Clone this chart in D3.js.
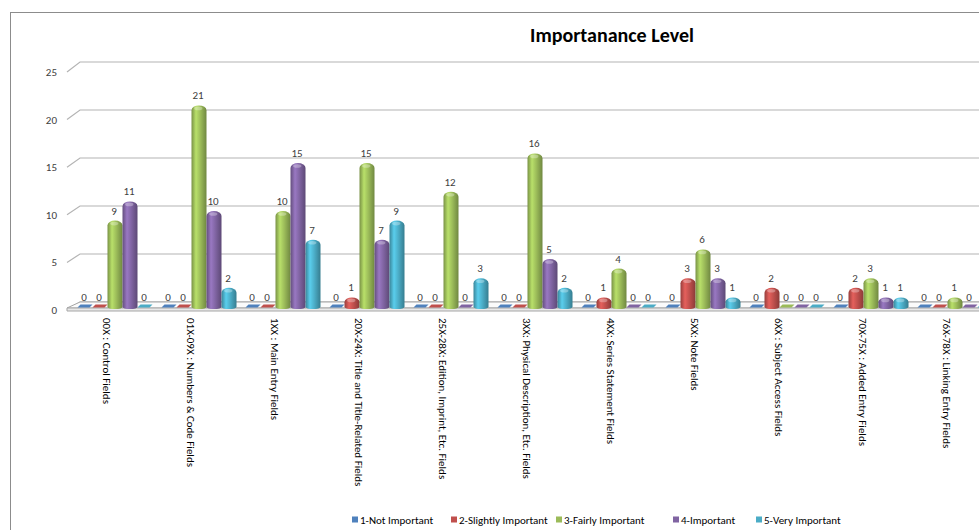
<!DOCTYPE html>
<html>
<head>
<meta charset="utf-8">
<script src="https://cdn.jsdelivr.net/npm/d3@7"></script>
<style>
  body { margin: 0; background: #fff; }
  svg { font-family: Calibri, Carlito, "Open Sans", "Noto Sans", sans-serif; }
</style>
</head>
<body>
<svg width="979" height="530"></svg>
<script>
// chart data
var categories = [
    '00X : Control Fields',
    '01X-09X : Numbers & Code Fields',
    '1XX : Main Entry Fields',
    '20X-24X: Title and Title-Related Fields',
    '25X-28X: Edition, Imprint, Etc. Fields',
    '3XX: Physical Description, Etc. Fields',
    '4XX: Series Statement Fields',
    '5XX: Note Fields',
    '6XX : Subject Access Fields',
    '70X-75X : Added Entry Fields',
    '76X-78X : Linking Entry Fields'
];
var seriesNames = ['1-Not Important', '2-Slightly Important', '3-Fairly Important', '4-Important', '5-Very Important'];
var notImportant      = [0, 0, 0, 0, 0, 0, 0, 0, 0, 0, 0];
var slightlyImportant = [0, 0, 0, 1, 0, 0, 1, 3, 2, 2, 0];
var fairlyImportant   = [9, 21, 10, 15, 12, 16, 4, 6, 0, 3, 1];
var important         = [11, 10, 15, 7, 0, 5, 0, 3, 0, 1, 0];
var veryImportant     = [0, 2, 7, 9, 3, 2, 0, 1, 0, 1, 0];
var yTicks = [0, 5, 10, 15, 20, 25];
var colors = ['#4F81BD', '#C0504D', '#9BBB59', '#8064A2', '#4BACC6'];

var seriesValues = [notImportant, slightlyImportant, fairlyImportant, important, veryImportant];

var svg = d3.select('svg');

// outer chart border (chart is cropped on the right)
svg.append('rect')
    .attr('x', 10.5).attr('y', 12.5)
    .attr('width', 1000).attr('height', 530)
    .attr('fill', 'none')
    .attr('stroke', '#8c8c8c');

// title
svg.append('text')
    .attr('x', 612).attr('y', 42)
    .attr('text-anchor', 'middle')
    .style('font-size', '20px')
    .style('font-weight', 'bold')
    .attr('fill', '#000')
    .text('Importanance Level');

// scales
var yBack = d3.scaleLinear().domain([0, 25]).range([302, 62]);
var yFront = d3.scaleLinear().domain([0, 25]).range([307, 67]);
var yLabel = d3.scaleLinear().domain([0, 25]).range([310, 72]);

var xGroup = d3.scaleBand()
    .domain(categories)
    .range([73, 997])
    .paddingInner(0.107)
    .paddingOuter(0.0535);

var xSeries = d3.scaleBand()
    .domain(seriesNames)
    .range([0, xGroup.bandwidth()]);

// gradients for cylinder shading
var defs = svg.append('defs');
colors.forEach(function (c, i) {
    var g = defs.append('linearGradient')
        .attr('id', 'grad' + i)
        .attr('x1', '0%').attr('x2', '100%')
        .attr('y1', '0%').attr('y2', '0%');
    g.append('stop').attr('offset', '0%').attr('stop-color', d3.color(c).darker(0.7));
    g.append('stop').attr('offset', '30%').attr('stop-color', d3.color(c).brighter(0.5));
    g.append('stop').attr('offset', '60%').attr('stop-color', c);
    g.append('stop').attr('offset', '100%').attr('stop-color', d3.color(c).darker(0.9));
});

// back wall gridlines with the slanted side ticks
var grid = svg.append('g').attr('class', 'grid');
yTicks.forEach(function (t) {
    grid.append('path')
        .attr('d', `M67,${yLabel(t)} L80,${yBack(t)} L1000,${yBack(t)}`)
        .attr('fill', 'none')
        .attr('stroke', t === 0 ? '#a6a6a6' : '#b4b4b4')
        .attr('stroke-width', 1.2);
});

// y tick labels
svg.append('g')
    .attr('class', 'y axis')
    .attr('transform', 'translate(57,0)')
    .call(d3.axisLeft(yLabel).tickValues(yTicks).tickSize(0).tickPadding(0))
    .call(g => g.select('.domain').remove())
    .selectAll('text')
    .style('font-size', '11px')
    .style('font-family', 'Calibri, Carlito, "Open Sans", sans-serif')
    .attr('fill', '#404040');

// floor slab
svg.append('path')
    .attr('d', 'M67,308 L80,302 L1000,302 L1000,308 Z')
    .attr('fill', '#fbfbfb')
    .attr('stroke', '#a6a6a6');
svg.append('path')
    .attr('d', 'M67,308 L1000,308 L1000,311 L67,311 Z')
    .attr('fill', '#e8e8e8')
    .attr('stroke', '#a6a6a6');

// build rows
var rows = [];
categories.forEach(function (cat, ci) {
    seriesNames.forEach(function (s, si) {
        rows.push({ cat: cat, series: s, si: si, value: seriesValues[si][ci] });
    });
});

var w = xSeries.bandwidth();

var bars = svg.append('g').attr('class', 'bars')
    .selectAll('g')
    .data(rows)
    .enter()
    .append('g')
    .attr('transform', d => `translate(${xGroup(d.cat) + xSeries(d.series)},0)`);

// zero values: flat disc on the floor
bars.filter(d => d.value === 0)
    .append('path')
    .attr('d', `M0,307.5 L3,304.5 L${w},304.5 L${w - 3},307.5 Z`)
    .attr('fill', (d) => colors[d.si]);

// non zero: cylinders with rounded top
var cyl = bars.filter(d => d.value > 0);
cyl.append('path')
    .attr('d', function (d) {
        var top = yFront(d.value);
        var base = yFront(0);
        var ry = Math.min(5, (base - top) / 2);
        return `M0,${base} L0,${top + ry} A${w / 2},${ry} 0 0 1 ${w},${top + ry} L${w},${base} A${w / 2},2 0 0 1 0,${base} Z`;
    })
    .attr('fill', d => `url(#grad${d.si})`);
cyl.append('ellipse')
    .attr('cx', w * 0.45)
    .attr('cy', d => yFront(d.value) + 3)
    .attr('rx', w * 0.28)
    .attr('ry', 1.8)
    .attr('fill', '#fff')
    .attr('opacity', 0.3);

// value labels
bars.append('text')
    .attr('x', w / 2 - 1)
    .attr('y', d => yFront(d.value) - 6)
    .attr('text-anchor', 'middle')
    .style('font-size', '11px')
    .attr('fill', '#404040')
    .text(d => d.value);

// category labels, rotated
svg.append('g').attr('class', 'x labels')
    .selectAll('text')
    .data(categories)
    .enter()
    .append('text')
    .attr('transform', d => `translate(${xGroup(d) + xGroup.bandwidth() / 2 - 8},318) rotate(90)`)
    .attr('dy', '0.35em')
    .style('font-size', '11px')
    .attr('fill', '#000')
    .text(d => d);

// legend
var legendX = [352, 451, 556, 673, 756];
var legend = svg.append('g').attr('class', 'legend')
    .selectAll('g')
    .data(seriesNames)
    .enter()
    .append('g')
    .attr('transform', (d, i) => `translate(${legendX[i]},520)`);
legend.append('rect')
    .attr('x', 0).attr('y', -3.5)
    .attr('width', 6).attr('height', 6)
    .attr('fill', (d, i) => colors[i]);
legend.append('text')
    .attr('x', 8)
    .attr('dy', '0.35em')
    .style('font-size', '11px')
    .attr('fill', '#000')
    .text(d => d);
</script>
</body>
</html>
